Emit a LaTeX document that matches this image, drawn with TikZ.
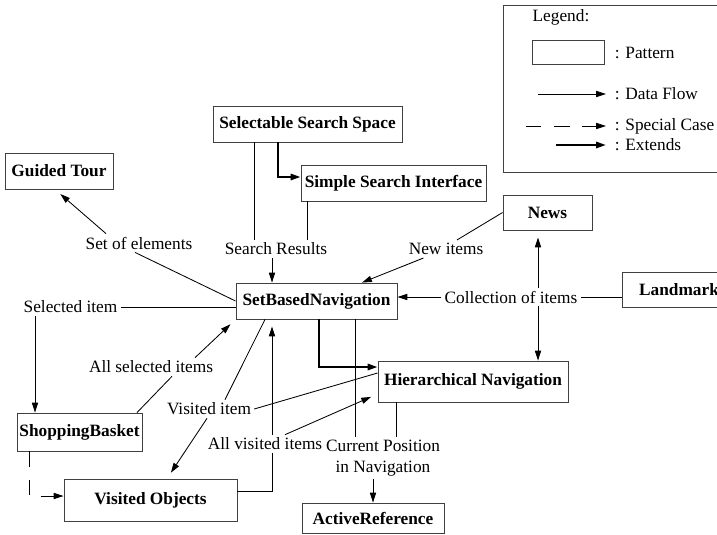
\documentclass[tikz,border=0pt]{standalone}
\usepackage{fontspec}
\setmainfont{Liberation Serif}
\usetikzlibrary{arrows.meta,calc}

\newcommand{\diafont}{\fontsize{12.3}{14.5}\selectfont}

\begin{document}
\begin{tikzpicture}[x=0.025cm,y=-0.025cm,line width=0.6pt,
    every node/.style={font=\diafont},
    pattern/.style={draw=black!75,font=\diafont\bfseries,inner sep=1pt,minimum height=0.9cm},
    flowlabel/.style={inner sep=2pt},
    flow/.style={-{Triangle[length=7pt,width=4.4pt]}},
    gapflow/.style={flow,shorten >=5pt},
    special/.style={flow,dash pattern=on 11pt off 9pt},
    extends/.style={flow,line width=1.5pt}]

\useasboundingbox (0,0) rectangle (717,534);

% Legend
\draw[draw=black!75] (503,5) rectangle (740,172);
\node (lgTitle) at (561,17) {Legend:};
\node[pattern,minimum width=1.8cm,minimum height=0.6cm] (lgBox) at (568,52) {};
\node[anchor=west,inner sep=1pt] (lgPattern) at (613,53) {: Pattern};
\node[anchor=west,inner sep=1pt] (lgFlow) at (613,94) {: Data Flow};
\node[anchor=west,inner sep=1pt] (lgSpecial) at (613,126) {: Special Case};
\node[anchor=west,inner sep=1pt] (lgExtends) at (613,145) {: Extends};
\coordinate (lgFlowA) at (538,94);
\coordinate (lgSpecialA) at (526,126);
\coordinate (lgExtendsA) at (556,145);
\draw[flow,shorten >=5pt] (lgFlowA) -- (lgFlow.west);
\draw[special,shorten >=5pt] (lgSpecialA) -- (lgSpecial.west);
\draw[extends,shorten >=5pt] (lgExtendsA) -- (lgExtends.west);

% Patterns
\node[pattern,minimum width=4.725cm] (sss) at (307.5,124) {Selectable Search Space};
\node[pattern,minimum width=4.625cm] (ssi) at (393.5,183) {Simple Search Interface};
\node[pattern,minimum width=2.7cm] (gt) at (59,171) {Guided Tour};
\node[pattern,minimum width=2.225cm,minimum height=0.875cm] (news) at (547.5,212.5) {News};
\node[pattern,minimum width=2.85cm,minimum height=0.875cm] (landmark) at (679,289.5) {Landmark};
\node[pattern,minimum width=4.025cm] (sbn) at (316.5,301) {SetBasedNavigation};
\node[pattern,minimum width=4.75cm,minimum height=1.025cm] (hn) at (473,381.5) {Hierarchical Navigation};
\node[pattern,minimum width=3.125cm,minimum height=0.95cm] (sb) at (79.5,432) {ShoppingBasket};
\node[pattern,minimum width=4.325cm,minimum height=1.05cm] (vo) at (150.5,500) {Visited Objects};
\node[pattern,minimum width=3.55cm,minimum height=0.75cm] (ar) at (373,518) {ActiveReference};

% Flow labels
\node[flowlabel] (setElems) at (139,243) {Set of elements};
\node[flowlabel] (searchRes) at (276,249) {Search Results};
\node[flowlabel] (newItems) at (446,249) {New items};
\node[flowlabel] (selItem) at (70.5,307) {Selected item};
\node[flowlabel] (collItems) at (511,297) {Collection of items};
\node[flowlabel] (allSel) at (151,367) {All selected items};
\node[flowlabel] (visItem) at (209,409) {Visited item};
\node[flowlabel] (allVis) at (265,444) {All visited items};
\node[flowlabel,align=center] (curPos) at (383,458) {Current Position\\in Navigation};

% Extends
\draw[extends] (sss.south -| 278,0) |- (ssi.west |- 0,177);
\draw[extends] (sbn.south -| 319,0) |- (hn.west |- 0,367);

% Search results
\draw (sss.south -| 254,0) -- (searchRes.north -| 254,0);
\draw (ssi.south -| 307,0) -- (searchRes.north -| 307,0);
\draw[flow] (searchRes.south -| 272,0) -- (sbn.north -| 272,0);

% New items
\draw (news.west) -- (newItems.north -| 457,0);
\draw[flow] (newItems) -- (sbn.north -| 362,0);

% Set of elements
\draw (sbn.west) -- (setElems.south -| 135,0);
\draw[gapflow] (setElems.north -| 106,0) -- (gt.south -| 55,0);

% Selected item
\draw (selItem.east) -- (sbn.west |- selItem.east);
\draw[flow] (selItem.south -| 35,0) -- (sb.north -| 35,0);

% All selected items
\draw (sb.north -| 137,0) -- (allSel.south -| 172,0);
\draw[gapflow] (allSel.north -| 195,0) -- (sbn.south west);

% Visited item
\draw (sbn.south -| 265,0) -- (visItem.north -| 225,0);
\draw (hn.west |- 0,373) -- (visItem.east);
\draw[gapflow] (visItem.south -| 207,0) -- (vo.north -| 167,0);

% All visited items
\draw (vo.east |- 0,491) -| (allVis.south -| 272,0);
\draw[gapflow] (allVis.north -| 272,0) -- (sbn.south -| 272,0);
\draw[gapflow] (allVis.north -| 285,0) -- (hn.west |- 0,394);

% Collection of items
\draw (landmark.west |- collItems.east) -- (collItems.east);
\draw[flow] (collItems.west) -- (sbn.east |- collItems.west);
\draw[gapflow] (collItems.north -| 538,0) -- (news.south -| 538,0);
\draw[flow] (collItems.south -| 538,0) -- (hn.north -| 538,0);

% Current position
\draw (sbn.south -| 355,0) -- (curPos.north -| 355,0);
\draw (hn.south -| 396,0) -- (curPos.north -| 396,0);
\draw[flow] (curPos.south -| 373,0) -- (ar.north -| 373,0);

% Special case
\draw[special] (sb.south -| 29,0) |- (vo.west |- 0,496);

\end{tikzpicture}
\end{document}
